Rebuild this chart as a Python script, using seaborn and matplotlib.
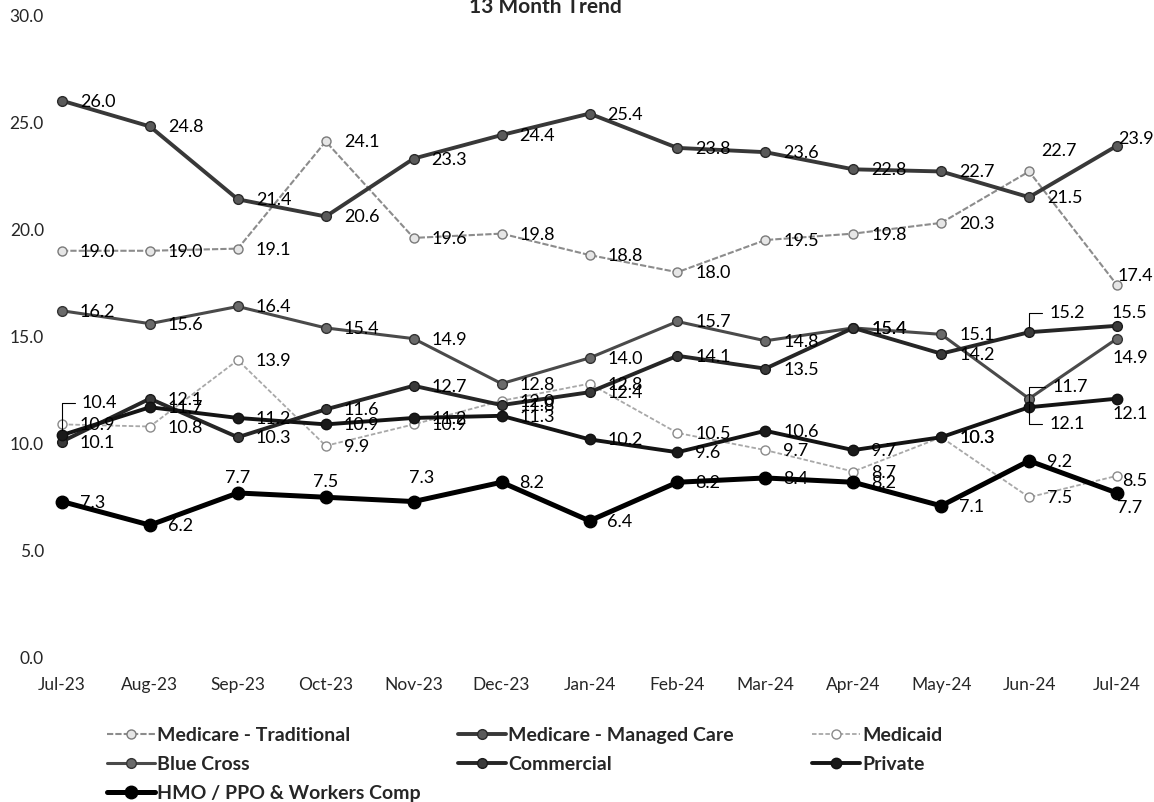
import numpy as np
import pandas as pd
import matplotlib
matplotlib.use("Agg")
import matplotlib.pyplot as plt
import seaborn as sns

# ---------------- data ----------------
months = ['Jul-23', 'Aug-23', 'Sep-23', 'Oct-23', 'Nov-23', 'Dec-23', 'Jan-24',
          'Feb-24', 'Mar-24', 'Apr-24', 'May-24', 'Jun-24', 'Jul-24']

medicare_traditional = [19.0, 19.0, 19.1, 24.1, 19.6, 19.8, 18.8, 18.0, 19.5, 19.8, 20.3, 22.7, 17.4]
medicare_managed = [26.0, 24.8, 21.4, 20.6, 23.3, 24.4, 25.4, 23.8, 23.6, 22.8, 22.7, 21.5, 23.9]
medicaid = [10.9, 10.8, 13.9, 9.9, 10.9, 12.0, 12.8, 10.5, 9.7, 8.7, 10.3, 7.5, 8.5]
blue_cross = [16.2, 15.6, 16.4, 15.4, 14.9, 12.8, 14.0, 15.7, 14.8, 15.4, 15.1, 12.1, 14.9]
commercial = [10.1, 12.1, 10.3, 11.6, 12.7, 11.8, 12.4, 14.1, 13.5, 15.4, 14.2, 15.2, 15.5]
private = [10.4, 11.7, 11.2, 10.9, 11.2, 11.3, 10.2, 9.6, 10.6, 9.7, 10.3, 11.7, 12.1]
hmo_ppo = [7.3, 6.2, 7.7, 7.5, 7.3, 8.2, 6.4, 8.2, 8.4, 8.2, 7.1, 9.2, 7.7]

names = ['Medicare - Traditional', 'Medicare - Managed Care', 'Medicaid', 'Blue Cross',
         'Commercial', 'Private', 'HMO / PPO & Workers Comp']
values = [medicare_traditional, medicare_managed, medicaid, blue_cross,
          commercial, private, hmo_ppo]

# ---------------- styles ----------------
styles = {
    'Medicare - Traditional': dict(color='#8c8c8c', lw=1.5, ls=(0, (3, 1)), ms=6.5, mfc='#e6e6e6', mec='#7a7a7a'),
    'Medicare - Managed Care': dict(color='#383838', lw=2.8, ls='-', ms=7, mfc='#5a5a5a', mec='#2a2a2a'),
    'Medicaid': dict(color='#a8a8a8', lw=1.3, ls=(0, (2.5, 1.2)), ms=6.5, mfc='white', mec='#8a8a8a'),
    'Blue Cross': dict(color='#4a4a4a', lw=2.2, ls='-', ms=7, mfc='#6a6a6a', mec='#333333'),
    'Commercial': dict(color='#262626', lw=2.8, ls='-', ms=7, mfc='#3a3a3a', mec='#1a1a1a'),
    'Private': dict(color='#141414', lw=2.8, ls='-', ms=7.5, mfc='#1a1a1a', mec='#111111'),
    'HMO / PPO & Workers Comp': dict(color='black', lw=3.6, ls='-', ms=9, mfc='black', mec='black'),
}

# label offsets in pixels: (dx, dy, ha, leader); default is right of the point
offsets = {
    ('Private', 0): (20, 32, 'left', True),
    ('HMO / PPO & Workers Comp', 2): (0, 15, 'center', False),
    ('HMO / PPO & Workers Comp', 3): (0, 15, 'center', False),
    ('HMO / PPO & Workers Comp', 4): (8, 24, 'center', False),
    ('Medicare - Traditional', 11): (12, 20, 'left', False),
    ('Medicare - Managed Care', 12): (1, 7, 'left', False),
    ('Medicare - Traditional', 12): (1, 9, 'left', False),
    ('Commercial', 11): (20, 19, 'left', True),
    ('Private', 11): (23, 20, 'left', True),
    ('Blue Cross', 11): (20, -25, 'left', True),
    ('Commercial', 12): (-5, 13, 'left', False),
    ('Blue Cross', 12): (-4, -19, 'left', False),
    ('Private', 12): (-4, -15, 'left', False),
    ('Medicaid', 12): (5, -5, 'left', False),
    ('HMO / PPO & Workers Comp', 12): (0, -15, 'left', False),
}

sns.set_style("white")
plt.rcParams['font.family'] = ['Lato', 'DejaVu Sans']

fig = plt.figure(figsize=(11.54, 8.02), dpi=100)
ax = fig.add_axes([62 / 1154, 144 / 802, 1055 / 1154, 643 / 802])

x = np.arange(len(months))
for name, vals in zip(names, values):
    st = styles[name]
    df = pd.DataFrame({'pos': x, 'value': vals})
    sns.lineplot(data=df, x='pos', y='value', ax=ax, color=st['color'], lw=st['lw'],
                 linestyle=st['ls'], marker='o', markersize=st['ms'],
                 markerfacecolor=st['mfc'], markeredgecolor=st['mec'],
                 markeredgewidth=1.0, legend=False, clip_on=False, sort=False)

# data labels
for name, vals in zip(names, values):
    for i, v in enumerate(vals):
        dx, dy, ha, leader = offsets.get((name, i), (18, -1, 'left', False))
        kw = {}
        if leader:
            kw['arrowprops'] = dict(arrowstyle='-', color='black', lw=0.8,
                                    connectionstyle='angle,angleA=0,angleB=90',
                                    relpos=(0, 0.5), shrinkA=3, shrinkB=4)
        ax.annotate(f"{v:.1f}", xy=(i, v), xytext=(dx, dy), textcoords='offset pixels',
                    ha=ha, va='center', fontsize=13, color='black',
                    annotation_clip=False, **kw)

ax.set_xlim(0, len(months) - 1)
ax.set_ylim(0, 30)
ax.set_yticks(np.arange(0, 31, 5))
ax.set_yticklabels([f"{t:.1f}" for t in np.arange(0, 31, 5)])
ax.set_xticks(x)
ax.set_xticklabels(months)
ax.tick_params(axis='y', length=0, pad=13, labelsize=12.5)
ax.tick_params(axis='x', length=0, pad=14, labelsize=12.5)
ax.set_xlabel('')
ax.set_ylabel('')
for s in ax.spines.values():
    s.set_visible(False)

fig.text(545 / 1154, 1 - 13 / 802, '13 Month Trend', ha='center', va='baseline',
         fontsize=15, fontweight='bold')

# legend: three columns, row-major order
lines = ax.get_lines()
handle_map = dict(zip(names, lines))
cols = [(['Medicare - Traditional', 'Blue Cross', 'HMO / PPO & Workers Comp'], 107),
        (['Medicare - Managed Care', 'Commercial'], 458),
        (['Medicaid', 'Private'], 812)]
for labels, xpix in cols:
    fig.legend([handle_map[l] for l in labels], labels, loc='upper left',
               bbox_to_anchor=(xpix / 1154, 1 - 727 / 802), frameon=False,
               borderpad=0, borderaxespad=0, handlelength=2.45, handletextpad=0.12,
               labelspacing=0.62, prop={'weight': 'bold', 'size': 14})

fig.savefig('out.png', dpi=100)
